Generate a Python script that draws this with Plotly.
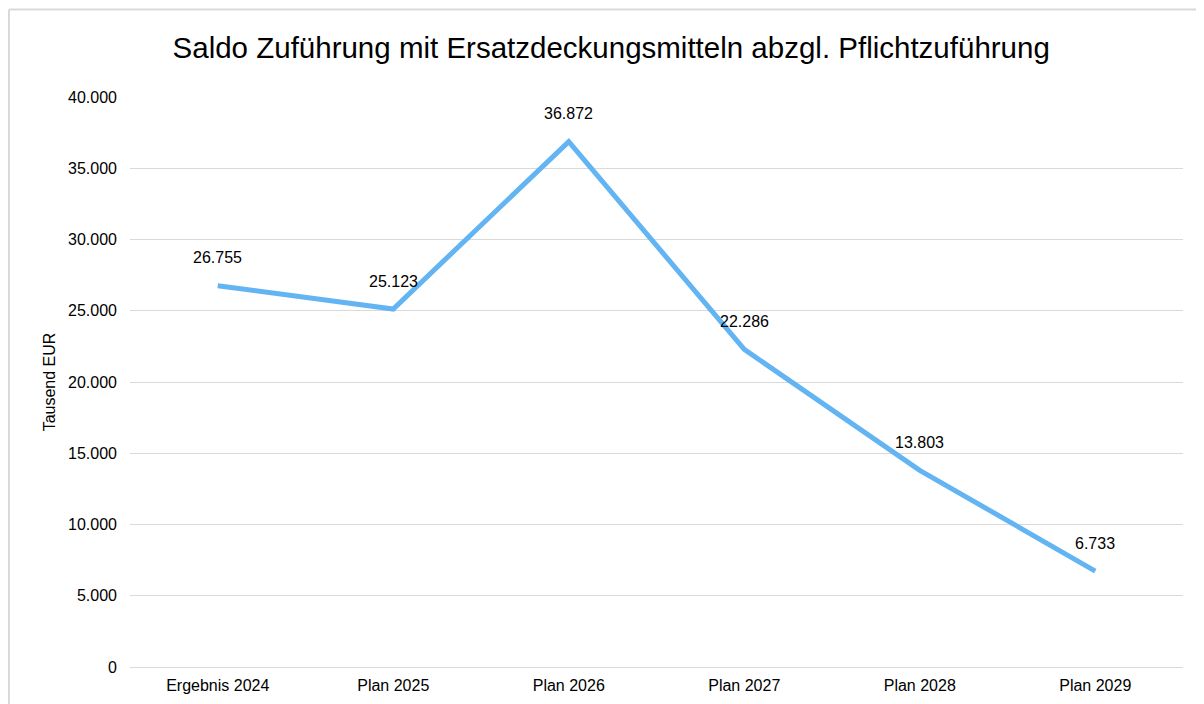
import plotly.graph_objects as go

categories = ["Ergebnis 2024", "Plan 2025", "Plan 2026", "Plan 2027", "Plan 2028", "Plan 2029"]
values = [26755, 25123, 36872, 22286, 13803, 6733]
y_ticks = [0, 5000, 10000, 15000, 20000, 25000, 30000, 35000, 40000]
y_tick_labels = ["0", "5.000", "10.000", "15.000", "20.000", "25.000", "30.000", "35.000", "40.000"]

W, H = 1204, 704
ML, MR, MT, MB = 122, 29, 89, 45
PW, PH = W - ML - MR, H - MT - MB
FONT = "Liberation Sans, Arial"

fig = go.Figure()
fig.add_trace(go.Scatter(
    x=categories, y=values, mode="lines",
    line=dict(color="#63B4F3", width=5),
    hoverinfo="skip", showlegend=False,
))

for c, v in zip(categories, values):
    fig.add_annotation(
        x=c, y=v, text=f"{v:,}".replace(",", "."), showarrow=False,
        yshift=28, font=dict(family=FONT, size=16, color="#000000"),
    )

# chart border (left and top)
bx = (1 - ML) / PW
by = 1 + (MT - 1.5) / PH
fig.add_shape(type="line", xref="paper", yref="paper", x0=bx, x1=bx, y0=-1, y1=by,
              line=dict(color="#D9D9D9", width=2))
fig.add_shape(type="line", xref="paper", yref="paper", x0=bx, x1=2, y0=by, y1=by,
              line=dict(color="#D9D9D9", width=2))

fig.update_layout(
    width=W, height=H,
    margin=dict(l=ML, r=MR, t=MT, b=MB),
    paper_bgcolor="white", plot_bgcolor="white",
    font=dict(family=FONT, size=16, color="#000000"),
    title=dict(text="Saldo Zuführung mit Ersatzdeckungsmitteln abzgl. Pflichtzuführung",
               x=0.501, xanchor="center", y=1 - 40 / H, yanchor="middle",
               font=dict(family=FONT, size=29.5, color="#000000")),
    xaxis=dict(type="category", range=[-0.5, 5.5], showgrid=False, showline=False,
               ticks="", tickfont=dict(size=16), zeroline=False, ticklabelstandoff=7),
    yaxis=dict(range=[0, 40000], tickvals=y_ticks, ticktext=y_tick_labels,
               showgrid=True, gridcolor="#D9D9D9", gridwidth=1,
               zeroline=True, zerolinecolor="#D9D9D9", zerolinewidth=1,
               showline=False, ticks="", ticklabelstandoff=12, tickfont=dict(size=16),
               title=dict(text="Tausend EUR", standoff=8, font=dict(size=16))),
)

fig.write_html("out.html")
